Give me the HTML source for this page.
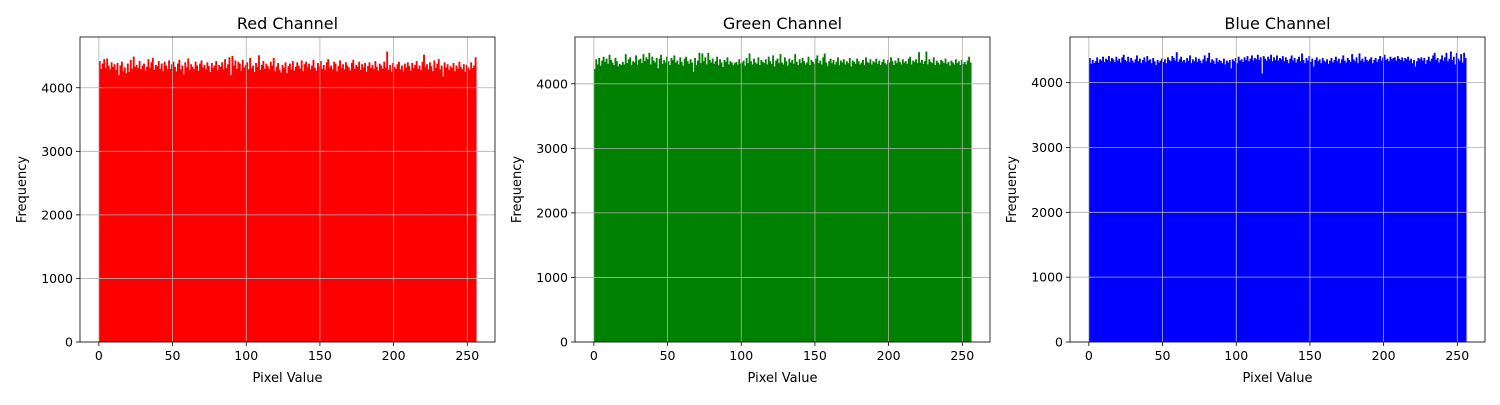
<!DOCTYPE html>
<html><head><meta charset="utf-8"><style>
body{margin:0;background:#fff;width:1500px;height:400px;overflow:hidden}
svg{font-family:"DejaVu Sans","Liberation Sans",sans-serif}
</style></head><body>
<svg id="fig" width="1500" height="400"></svg>
<script>
const redCounts=[4420,4300,4380,4450,4310,4460,4350,4290,4400,4330,4370,4280,4390,4200,4350,4410,
4260,4320,4230,4380,4250,4440,4300,4490,4330,4360,4310,4420,4290,4350,4380,4270,
4330,4450,4310,4400,4470,4280,4360,4340,4420,4300,4380,4260,4410,4350,4290,4430,
4300,4370,4410,4330,4260,4380,4440,4290,4350,4210,4400,4320,4460,4280,4370,4330,
4290,4410,4350,4270,4380,4430,4320,4360,4290,4400,4340,4250,4390,4310,4350,4420,
4280,4360,4330,4400,4290,4450,4310,4370,4480,4200,4500,4350,4430,4300,4410,4380,
4270,4440,4320,4360,4400,4290,4470,4310,4350,4250,4390,4330,4510,4280,4360,4420,
4300,4380,4340,4290,4410,4350,4470,4260,4330,4390,4280,4240,4360,4310,4400,4230,
4340,4380,4290,4420,4270,4330,4400,4350,4300,4430,4260,4370,4410,4320,4380,4290,
4350,4440,4310,4270,4390,4330,4420,4300,4360,4280,4400,4450,4320,4350,4290,4410,
4380,4260,4340,4430,4310,4370,4290,4400,4350,4320,4270,4390,4440,4300,4360,4330,
4410,4280,4370,4320,4390,4250,4340,4400,4310,4360,4290,4420,4330,4270,4380,4350,
4300,4410,4320,4570,4280,4360,4250,4390,4330,4300,4370,4410,4290,4350,4260,4380,
4320,4400,4340,4270,4390,4310,4360,4420,4300,4350,4280,4410,4520,4330,4370,4290,
4400,4340,4260,4430,4310,4380,4450,4290,4350,4180,4400,4320,4370,4280,4340,4310,
4390,4260,4350,4300,4410,4330,4290,4370,4250,4360,4320,4280,4400,4310,4350,4480];
const greenCounts=[4230,4380,4300,4400,4280,4360,4420,4340,4390,4310,4450,4370,4330,4290,4400,4350,
4270,4310,4290,4340,4300,4460,4320,4380,4410,4290,4350,4330,4440,4300,4370,4390,
4320,4460,4350,4410,4380,4480,4300,4420,4360,4330,4400,4240,4390,4450,4310,4370,
4330,4420,4350,4290,4400,4370,4440,4330,4360,4300,4410,4340,4280,4390,4420,4350,
4310,4380,4330,4190,4400,4290,4360,4480,4320,4470,4350,4410,4300,4480,4370,4330,
4390,4310,4350,4420,4290,4380,4330,4260,4370,4340,4410,4300,4350,4330,4290,4320,
4340,4300,4380,4310,4330,4360,4280,4400,4320,4470,4350,4300,4390,4330,4310,4410,
4290,4370,4340,4320,4380,4300,4420,4350,4310,4440,4270,4360,4390,4320,4460,4330,
4300,4410,4350,4280,4390,4330,4370,4310,4460,4340,4290,4380,4320,4400,4350,4300,
4330,4420,4290,4370,4340,4310,4390,4440,4320,4360,4300,4410,4470,4330,4280,4350,
4390,4320,4370,4300,4340,4410,4290,4360,4330,4380,4300,4350,4320,4400,4270,4360,
4340,4310,4390,4350,4300,4330,4370,4290,4410,4340,4320,4380,4300,4350,4330,4390,
4310,4360,4290,4340,4380,4320,4300,4370,4330,4410,4350,4290,4360,4320,4400,4340,
4300,4380,4330,4350,4310,4390,4420,4300,4360,4340,4380,4320,4490,4330,4370,4310,
4350,4500,4300,4380,4340,4320,4410,4290,4360,4330,4300,4370,4350,4320,4390,4310,
4340,4280,4360,4330,4300,4380,4320,4350,4290,4370,4310,4340,4300,4360,4420,4330];
const blueCounts=[4380,4290,4350,4300,4330,4390,4310,4360,4340,4400,4320,4370,4350,4410,4330,4380,
4360,4320,4400,4340,4370,4310,4390,4430,4350,4330,4400,4320,4380,4340,4310,4360,
4420,4330,4370,4300,4350,4390,4320,4410,4340,4360,4300,4380,4330,4270,4350,4310,
4340,4370,4320,4360,4300,4390,4350,4330,4410,4380,4340,4470,4320,4360,4400,4330,
4350,4310,4380,4340,4420,4300,4360,4330,4390,4320,4370,4340,4300,4360,4420,4330,
4380,4460,4310,4360,4340,4290,4380,4320,4350,4330,4300,4370,4280,4340,4310,4350,
4220,4360,4330,4380,4300,4400,4340,4360,4320,4390,4350,4410,4330,4370,4420,4340,
4380,4360,4430,4350,4390,4140,4410,4370,4340,4400,4360,4430,4330,4390,4350,4420,
4340,4380,4360,4410,4330,4390,4350,4300,4370,4420,4340,4380,4310,4360,4400,4330,
4450,4350,4300,4380,4340,4410,4320,4370,4250,4350,4390,4330,4360,4300,4380,4340,
4320,4360,4290,4340,4380,4310,4350,4400,4330,4370,4300,4360,4420,4340,4310,4380,
4350,4320,4440,4360,4330,4390,4300,4450,4340,4370,4320,4400,4350,4330,4360,4390,
4300,4350,4380,4320,4360,4410,4340,4390,4430,4350,4370,4330,4400,4360,4380,4390,
4340,4410,4370,4350,4390,4330,4380,4360,4400,4340,4370,4300,4350,4250,4330,4380,
4360,4390,4340,4380,4290,4350,4400,4330,4370,4420,4460,4350,4380,4310,4360,4420,
4340,4390,4460,4330,4370,4480,4350,4400,4280,4460,4370,4340,4440,4310,4460,4380];
const channelTitles=["Red Channel","Green Channel","Blue Channel"];
const xTicks=[0,50,100,150,200,250];
const yTicks=[0,1000,2000,3000,4000];

const NS="http://www.w3.org/2000/svg";
const svg=document.getElementById('fig');
function mk(tag,attrs,parent){const e=document.createElementNS(NS,tag);for(const k in attrs)e.setAttribute(k,attrs[k]);(parent||svg).appendChild(e);return e;}
const panels=[{x0:80,data:redCounts,color:"#ff0000",name:"red"},{x0:575,data:greenCounts,color:"#008000",name:"green"},{x0:1070,data:blueCounts,color:"#0000ff",name:"blue"}];
const axTop=37,axBot=342,W=415;
panels.forEach((p,i)=>{
  const g=mk('g',{});
  
  
  const xmin=-12.8,xmax=268.8;
  const ymax=Math.max(...p.data)*1.05;
  const sx=v=>p.x0+(v-xmin)/(xmax-xmin)*W;
  const sy=v=>axBot-v/ymax*(axBot-axTop);
  p.data.forEach((c,b)=>{
    const r=mk('rect',{x:sx(b),y:sy(c),width:sx(b+1)-sx(b)+0.4,height:axBot-sy(c),fill:p.color},g);
    
    
  });
  xTicks.forEach(t=>{
    const x=sx(t);
    const l=mk('line',{x1:x,x2:x,y1:axTop,y2:axBot,stroke:"#b0b0b0","stroke-width":0.8},g);
    
    
    mk('line',{x1:x,x2:x,y1:axBot,y2:axBot+4,stroke:"#000","stroke-width":0.8},g);
    const tx=mk('text',{x:x,y:axBot+18,"font-size":12.5,"text-anchor":"middle"},g);tx.textContent=t;
    
    
  });
  yTicks.forEach(t=>{
    const y=sy(t);
    const l=mk('line',{x1:p.x0,x2:p.x0+W,y1:y,y2:y,stroke:"#b0b0b0","stroke-width":0.8},g);
    
    
    mk('line',{x1:p.x0-4,x2:p.x0,y1:y,y2:y,stroke:"#000","stroke-width":0.8},g);
    const tx=mk('text',{x:p.x0-7,y:y+4.5,"font-size":12.5,"text-anchor":"end"},g);tx.textContent=t;
    
    
  });
  const fr=mk('rect',{x:p.x0,y:axTop,width:W,height:axBot-axTop,fill:"none",stroke:"#000","stroke-width":0.8},g);
  
  
  const ti=mk('text',{x:p.x0+W/2,y:29,"font-size":16,"text-anchor":"middle"},g);ti.textContent=channelTitles[i];
  
  
  const xl=mk('text',{x:p.x0+W/2,y:382,"font-size":13,"text-anchor":"middle"},g);xl.textContent="Pixel Value";
  
  
  const yl=mk('text',{x:0,y:0,"font-size":13,"text-anchor":"middle",transform:`translate(${p.x0-54},${(axTop+axBot)/2}) rotate(-90)`},g);yl.textContent="Frequency";
  
  
});
</script>
</body></html>
